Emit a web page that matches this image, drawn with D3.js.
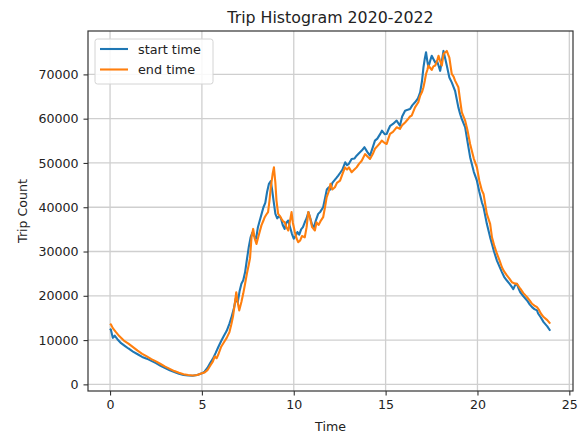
<!DOCTYPE html>
<html>
<head>
<meta charset="utf-8">
<script src="https://cdn.jsdelivr.net/npm/d3@7"></script>
<style>
  html, body { margin: 0; padding: 0; background: #fff; }
  svg { display: block; font-family: "DejaVu Sans", sans-serif; }
</style>
</head>
<body>
<svg id="chart" width="583" height="434"></svg>
<script>
// Trip counts by hour of day (start vs end time), 2020-2022
const startHours = [
  0.0, 0.05, 0.15, 0.25, 0.4, 0.6, 0.8, 1.0, 1.25, 1.5, 1.75, 2.0, 2.25, 2.5, 2.75, 3.0, 3.25, 3.5, 3.75, 4.0,
  4.25, 4.5, 4.75, 5.0, 5.15, 5.3, 5.45, 5.6, 5.75, 5.9, 6.05, 6.2, 6.35, 6.5, 6.6, 6.75, 6.85, 6.95, 7.05, 7.15,
  7.25, 7.35, 7.45, 7.55, 7.65, 7.75, 7.85, 7.95, 8.05, 8.15, 8.25, 8.35, 8.45, 8.55, 8.65, 8.75, 8.82, 8.9, 9.0, 9.1,
  9.2, 9.3, 9.4, 9.5, 9.6, 9.7, 9.8, 9.9, 10.0, 10.1, 10.2, 10.3, 10.4, 10.5, 10.6, 10.7, 10.8, 10.9, 11.0, 11.1,
  11.2, 11.33, 11.45, 11.6, 11.7, 11.8, 11.9, 12.0, 12.1, 12.2, 12.3, 12.42, 12.55, 12.65, 12.8, 12.9, 13.0, 13.15, 13.3, 13.42,
  13.55, 13.7, 13.85, 14.0, 14.15, 14.3, 14.42, 14.55, 14.7, 14.8, 14.95, 15.06, 15.15, 15.25, 15.4, 15.5, 15.6, 15.78, 15.9, 16.06,
  16.2, 16.33, 16.45, 16.6, 16.75, 16.88, 16.98, 17.06, 17.13, 17.2, 17.27, 17.33, 17.42, 17.51, 17.6, 17.7, 17.8, 17.88, 17.97, 18.06,
  18.15, 18.25, 18.33, 18.47, 18.6, 18.78, 18.96, 19.06, 19.15, 19.33, 19.45, 19.6, 19.8, 19.97, 20.1, 20.24, 20.33, 20.51, 20.69, 20.79,
  20.9, 21.06, 21.2, 21.33, 21.45, 21.6, 21.75, 21.88, 21.95, 22.05, 22.15, 22.25, 22.33, 22.5, 22.7, 22.85, 22.97, 23.1, 23.24, 23.3,
  23.45, 23.6, 23.8, 23.96
];
const startCounts = [
  12600, 12300, 10500, 11000, 10200, 9300, 8700, 8100, 7400, 6800, 6200, 5800, 5300, 4800, 4200, 3700, 3200, 2800, 2400, 2100,
  2000, 1950, 2100, 2500, 2900, 3700, 4800, 5800, 7100, 8500, 9800, 11000, 12100, 13700, 15000, 17300, 19500, 18500, 21000, 22700,
  23500, 25300, 28200, 31000, 33200, 34300, 33500, 32900, 35500, 37000, 38500, 40000, 41000, 43500, 45300, 45900, 44000, 41500, 38500, 37500,
  38000, 37500, 36000, 35100, 36500, 37000, 35500, 34000, 32900, 33500, 34400, 33800, 35000, 35500, 36600, 37500, 38900, 37500, 36000, 35500,
  37000, 38500, 39000, 40000, 42000, 44000, 44500, 44000, 45500, 46000, 46500, 47150, 47900, 48500, 50150, 49500, 49800, 50900, 51000, 51650,
  52200, 52800, 53550, 52500, 51650, 53500, 55050, 55500, 56500, 57300, 56500, 56550, 57500, 58400, 58800, 59200, 59550, 58400, 60500, 61800,
  62000, 62200, 63000, 63700, 64500, 65950, 68500, 71600, 73500, 75000, 73000, 71600, 73000, 74200, 73500, 72700, 73000, 72000, 70800, 73000,
  75300, 73500, 72000, 69300, 68200, 66300, 62550, 61000, 59900, 58050, 55000, 51300, 48000, 46000, 43500, 41100, 40000, 36250, 33200, 31700,
  30000, 27950, 26600, 25350, 24300, 23450, 22700, 21950, 21500, 22400, 22700, 21500, 20800, 19900, 18950, 18000, 17450, 17000, 16700, 16000,
  15100, 14050, 13100, 12100
];

const endHours = [
  0.0, 0.05, 0.15, 0.3, 0.5, 0.75, 1.0, 1.25, 1.5, 1.75, 2.0, 2.25, 2.5, 2.75, 3.0, 3.25, 3.5, 3.75, 4.0, 4.25,
  4.5, 4.75, 5.0, 5.15, 5.3, 5.45, 5.6, 5.7, 5.8, 5.9, 6.05, 6.2, 6.35, 6.5, 6.6, 6.7, 6.8, 6.87, 6.95, 7.03,
  7.15, 7.25, 7.35, 7.45, 7.55, 7.62, 7.7, 7.79, 7.87, 7.97, 8.05, 8.15, 8.24, 8.35, 8.42, 8.5, 8.6, 8.68, 8.75, 8.85,
  8.92, 9.0, 9.06, 9.15, 9.25, 9.33, 9.42, 9.51, 9.6, 9.7, 9.8, 9.88, 9.95, 10.06, 10.15, 10.24, 10.35, 10.45, 10.6, 10.7,
  10.79, 10.88, 11.0, 11.15, 11.24, 11.35, 11.45, 11.6, 11.7, 11.79, 11.9, 12.0, 12.1, 12.24, 12.35, 12.52, 12.65, 12.79, 12.9, 13.0,
  13.15, 13.3, 13.42, 13.55, 13.7, 13.88, 14.0, 14.15, 14.3, 14.42, 14.55, 14.7, 14.79, 14.95, 15.06, 15.15, 15.24, 15.4, 15.6, 15.78,
  15.9, 16.06, 16.2, 16.33, 16.42, 16.6, 16.78, 16.88, 16.98, 17.06, 17.13, 17.2, 17.27, 17.33, 17.42, 17.51, 17.6, 17.7, 17.8, 17.88,
  17.97, 18.06, 18.15, 18.25, 18.33, 18.4, 18.47, 18.55, 18.6, 18.7, 18.78, 18.96, 19.06, 19.15, 19.33, 19.45, 19.6, 19.8, 19.97, 20.1,
  20.24, 20.33, 20.51, 20.69, 20.79, 20.9, 21.06, 21.2, 21.33, 21.45, 21.6, 21.75, 21.88, 22.0, 22.15, 22.25, 22.33, 22.5, 22.7, 22.85,
  22.97, 23.1, 23.24, 23.35, 23.45, 23.6, 23.8, 23.96
];
const endCounts = [
  13700, 13500, 12700, 11900, 10900, 9900, 9200, 8400, 7600, 6900, 6300, 5700, 5200, 4600, 4000, 3500, 3000, 2600, 2300, 2100,
  2000, 2100, 2500, 2700, 3200, 4200, 5200, 6300, 5900, 6800, 8500, 9500, 10500, 11800, 13500, 15500, 18500, 20800, 18500, 16700,
  18600, 20500, 22700, 25000, 27000, 28500, 33200, 35100, 33000, 31700, 33000, 34500, 35900, 37000, 37750, 38300, 38900, 41500, 44500, 47500,
  49000, 45500, 41500, 38500, 38000, 37400, 36800, 36600, 35500, 34750, 37000, 38900, 36500, 34400, 33000, 32100, 32500, 33500, 33200, 35500,
  38900, 37750, 35500, 34750, 36600, 36000, 36800, 37750, 40000, 42250, 43500, 45300, 44000, 44500, 45500, 46000, 47500, 49000, 48500, 49000,
  47900, 48500, 49000, 49800, 50500, 52000, 51500, 50900, 52000, 53200, 53800, 54500, 55050, 54500, 54300, 55500, 56550, 57000, 58050, 57700,
  58500, 59150, 59800, 60500, 60700, 62550, 63700, 65200, 66000, 67100, 68500, 70100, 71000, 72000, 71500, 71000, 71800, 72000, 73000, 74200,
  73000, 72000, 74600, 75000, 75300, 74500, 73800, 71500, 70100, 69500, 68600, 67100, 64000, 61400, 59550, 57500, 54300, 51000, 49000, 46000,
  43800, 43000, 38500, 36250, 33200, 31500, 29500, 28000, 26450, 25500, 24600, 23800, 23050, 22800, 22700, 22100, 21600, 20600, 19700, 18900,
  18200, 17800, 17450, 16800, 16000, 15200, 14500, 13700
];

const xTicks = [0, 5, 10, 15, 20, 25];
const yTicks = [0, 10000, 20000, 30000, 40000, 50000, 60000, 70000];

const seriesList = [
  { name: "start time", hours: startHours, counts: startCounts, color: "#1f77b4" },
  { name: "end time",   hours: endHours,   counts: endCounts,   color: "#ff7f0e" }
];

const plot = { left: 88, right: 573, top: 31, bottom: 391 };

const svg = d3.select("#chart");

const x = d3.scaleLinear().domain([-1.2, 25.2]).range([plot.left, plot.right]);
const y = d3.scaleLinear().domain([-1500, 79800]).range([plot.bottom, plot.top]);

// grid
const grid = svg.append("g").attr("class", "grid");
grid.selectAll("line.gx").data(xTicks).join("line")
  .attr("x1", d => x(d)).attr("x2", d => x(d))
  .attr("y1", plot.top).attr("y2", plot.bottom)
  .attr("stroke", "#cfcfcf").attr("stroke-width", 1.3);
grid.selectAll("line.gy").data(yTicks).join("line")
  .attr("x1", plot.left).attr("x2", plot.right)
  .attr("y1", d => y(d)).attr("y2", d => y(d))
  .attr("stroke", "#cfcfcf").attr("stroke-width", 1.3);

// series
const line = d3.line()
  .x(d => x(d[0]))
  .y(d => y(d[1]));

svg.append("clipPath").attr("id", "plotClip")
  .append("rect")
  .attr("x", plot.left).attr("y", plot.top)
  .attr("width", plot.right - plot.left).attr("height", plot.bottom - plot.top);

svg.append("g").attr("clip-path", "url(#plotClip)")
  .selectAll("path").data(seriesList).join("path")
  .attr("d", s => line(d3.zip(s.hours, s.counts)))
  .attr("fill", "none")
  .attr("stroke", s => s.color)
  .attr("stroke-width", 2.1)
  .attr("stroke-linejoin", "round");

// axes
const xAxis = d3.axisBottom(x).tickValues(xTicks).tickFormat(d3.format("d")).tickSize(4.5).tickPadding(5);
const yAxis = d3.axisLeft(y).tickValues(yTicks).tickFormat(d3.format("d")).tickSize(4.5).tickPadding(5);

const gx = svg.append("g").attr("transform", `translate(0,${plot.bottom})`).call(xAxis);
const gy = svg.append("g").attr("transform", `translate(${plot.left},0)`).call(yAxis);
[gx, gy].forEach(g => {
  g.select(".domain").remove();
  g.selectAll(".tick line").attr("stroke", "#333").attr("stroke-width", 1.1);
  g.selectAll(".tick text").attr("fill", "#222")
    .style("font-family", "'DejaVu Sans', sans-serif").style("font-size", "12.6px");
});

// frame
svg.append("rect")
  .attr("x", plot.left).attr("y", plot.top)
  .attr("width", plot.right - plot.left).attr("height", plot.bottom - plot.top)
  .attr("fill", "none").attr("stroke", "#333").attr("stroke-width", 1.2);

// title and axis labels
svg.append("text")
  .attr("x", (plot.left + plot.right) / 2).attr("y", 23)
  .attr("text-anchor", "middle")
  .attr("fill", "#222")
  .style("font-size", "15.8px")
  .text("Trip Histogram 2020-2022");

svg.append("text")
  .attr("x", (plot.left + plot.right) / 2).attr("y", 431)
  .attr("text-anchor", "middle")
  .attr("fill", "#222")
  .style("font-size", "12.6px")
  .text("Time");

svg.append("text")
  .attr("transform", `translate(27,${(plot.top + plot.bottom) / 2}) rotate(-90)`)
  .attr("text-anchor", "middle")
  .attr("fill", "#222")
  .style("font-size", "12.6px")
  .text("Trip Count");

// legend
const legend = svg.append("g").attr("transform", "translate(95,39)");
legend.append("rect")
  .attr("width", 118).attr("height", 45).attr("rx", 2.5)
  .attr("fill", "#fff").attr("fill-opacity", 0.85)
  .attr("stroke", "#d4d4d4").attr("stroke-width", 1);
const items = legend.selectAll("g.item").data(seriesList).join("g")
  .attr("transform", (d, i) => `translate(0,${10 + i * 20.5})`);
items.append("line")
  .attr("x1", 5).attr("x2", 33)
  .attr("stroke", d => d.color).attr("stroke-width", 2.1);
items.append("text")
  .attr("x", 43).attr("y", 4.5)
  .attr("fill", "#222")
  .style("font-size", "12.8px")
  .text(d => d.name);
</script>
</body>
</html>
